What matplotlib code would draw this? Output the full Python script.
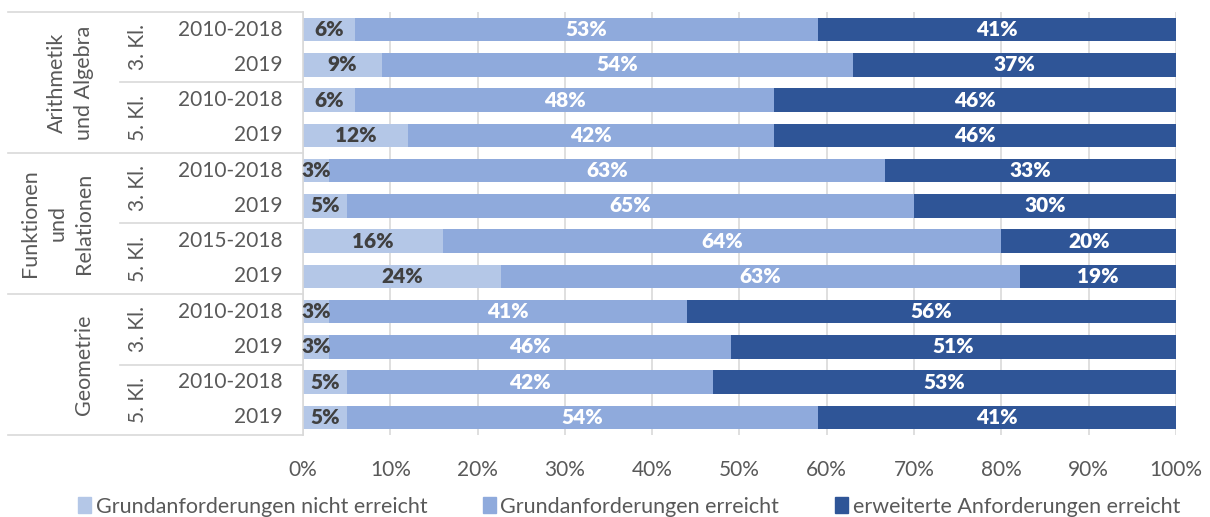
import numpy as np
import matplotlib
matplotlib.use("Agg")
import matplotlib.pyplot as plt
from matplotlib.patches import Patch

plt.rcParams['font.family'] = ['Lato', 'DejaVu Sans']

# data (labels as printed; bars are normalised to 100%)
groups = ["Arithmetik\nund Algebra", "Funktionen\nund\nRelationen", "Geometrie"]
grades = ["3. Kl.", "5. Kl.", "3. Kl.", "5. Kl.", "3. Kl.", "5. Kl."]
years = ["2010-2018", "2019", "2010-2018", "2019",
         "2010-2018", "2019", "2015-2018", "2019",
         "2010-2018", "2019", "2010-2018", "2019"]
nicht_erreicht = [6, 9, 6, 12, 3, 5, 16, 24, 3, 3, 5, 5]
erreicht = [53, 54, 48, 42, 63, 65, 64, 63, 41, 46, 42, 54]
erweitert = [41, 37, 46, 46, 33, 30, 20, 19, 56, 51, 53, 41]
series_names = ["Grundanforderungen nicht erreicht", "Grundanforderungen erreicht",
                "erweiterte Anforderungen erreicht"]

colors = ["#B4C7E7", "#8FAADC", "#2F5597"]
label_colors = ["#404040", "white", "white"]
grid_col = "#D9D9D9"
text_col = "#595959"

vals = np.array([nicht_erreicht, erreicht, erweitert], dtype=float)
pct = vals / vals.sum(axis=0) * 100

fig = plt.figure(figsize=(12.1, 5.17), dpi=100)
ax = fig.add_axes([0.2504, 0.1586, 0.7215, 0.8182])

y = np.arange(len(years))
left = np.zeros(len(years))
for k in range(3):
    ax.barh(y, pct[k], left=left, height=0.66, color=colors[k], zorder=2)
    for i in range(len(years)):
        ax.text(left[i] + pct[k][i] / 2, y[i], f"{int(vals[k][i])}%",
                ha='center', va='center', fontsize=15, fontweight='heavy',
                color=label_colors[k], zorder=3)
    left += pct[k]

ax.set_xlim(0, 100)
ax.set_ylim(11.5, -0.5)
ax.set_xticks(np.arange(0, 101, 10))
ax.set_xticklabels([f"{t}%" for t in range(0, 101, 10)])
ax.tick_params(axis='x', length=0, pad=18, labelsize=15, labelcolor=text_col)
ax.set_yticks([])
ax.grid(axis='x', color=grid_col, linewidth=1.2, zorder=0)
for s in ["top", "right", "bottom"]:
    ax.spines[s].set_visible(False)
ax.spines["left"].set_color(grid_col)
ax.spines["left"].set_linewidth(1.2)

# category table on the left
tr = ax.get_yaxis_transform()
for b in [-0.5, 3.5, 7.5, 11.5]:
    ax.plot([-0.338, 0], [b, b], transform=tr, color=grid_col, lw=1.2, clip_on=False)
for b in [1.5, 5.5, 9.5]:
    ax.plot([-0.2096, 0], [b, b], transform=tr, color=grid_col, lw=1.2, clip_on=False)

for i, yr in enumerate(years):
    ax.text(-0.023, i, yr, transform=tr, ha='right', va='center',
            fontsize=15, color=text_col)
for j, g in enumerate(grades):
    ax.text(-0.189, 2 * j + 0.5, g, transform=tr, ha='center', va='center',
            rotation=90, fontsize=15, color=text_col)
for j, g in enumerate(groups):
    ax.text(-0.239, 4 * j + 1.5, g, transform=tr, ha='right', va='center',
            rotation=90, fontsize=15.5, color=text_col, multialignment='center',
            linespacing=1.45)

handles = [Patch(color=c) for c in colors]
fig.legend(handles, series_names, loc='center', bbox_to_anchor=(0.52, 0.02),
           ncol=3, frameon=False, fontsize=15.5, labelcolor=text_col,
           handlelength=0.6, handleheight=0.8, handletextpad=0.2, columnspacing=2.6)

fig.savefig("out.png", dpi=100)
